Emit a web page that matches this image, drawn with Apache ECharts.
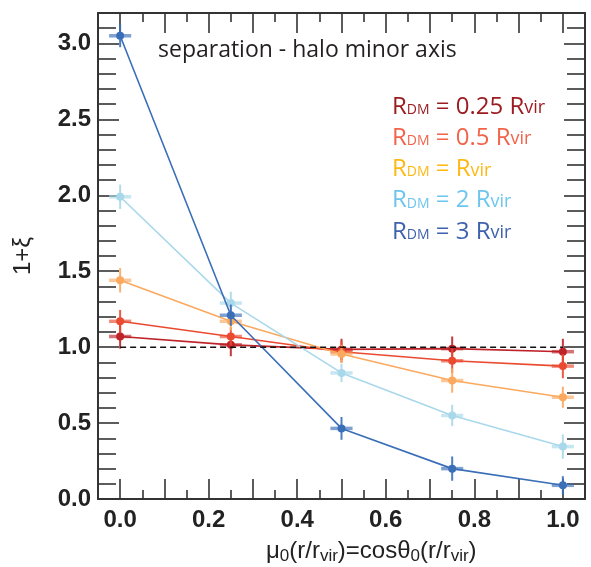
<!DOCTYPE html>
<html><head><meta charset="utf-8">
<script src="https://cdn.jsdelivr.net/npm/echarts@6/dist/echarts.min.js"></script>
<style>html,body{margin:0;padding:0;background:#fff}#c{width:591px;height:567px}</style>
</head><body><div id="c"></div>
<script>
// ---- data ----
const xValues = [0, 0.25, 0.5, 0.75, 1.0];
const y025 = [1.07, 1.015, 0.985, 0.99, 0.97];
const e025 = [0.08, 0.075, 0.07, 0.08, 0.085];
const y05 = [1.17, 1.07, 0.97, 0.91, 0.875];
const e05 = [0.075, 0.06, 0.07, 0.08, 0.08];
const y1 = [1.44, 1.17, 0.955, 0.78, 0.67];
const e1 = [0.08, 0.06, 0.06, 0.08, 0.07];
const y2 = [1.99, 1.29, 0.83, 0.55, 0.345];
const e2 = [0.08, 0.075, 0.06, 0.07, 0.08];
const y3 = [3.05, 1.21, 0.465, 0.20, 0.09];
const e3 = [0.075, 0.07, 0.075, 0.08, 0.06];
const xErr = 0.025;
const refX = [0, 1];
const refY = [1, 1];
const xLabelValues = [0, 0.2, 0.4, 0.6, 0.8, 1.0];
const xMajorTicks = [0, 0.1, 0.2, 0.3, 0.4, 0.5, 0.6, 0.7, 0.8, 0.9, 1.0];
const xMinorTicks = [0.05, 0.15, 0.25, 0.35, 0.45, 0.55, 0.65, 0.75, 0.85, 0.95];
const yLabelValues = [0, 0.5, 1.0, 1.5, 2.0, 2.5, 3.0];
const yMinorTicks = [0.1, 0.2, 0.3, 0.4, 0.6, 0.7, 0.8, 0.9, 1.1, 1.2, 1.3, 1.4, 1.6, 1.7, 1.8, 1.9,
  2.1, 2.2, 2.3, 2.4, 2.6, 2.7, 2.8, 2.9, 3.1];
const legendNums = ['0.25 ', '0.5 ', '', '2 ', '3 '];
const titleText = 'separation - halo minor axis';

const lineColors = ['#BE2329', '#EA4A30', '#FBA95E', '#A8D8EA', '#3A6FB8'];
const textColors = ['#9B1D21', '#F2644A', '#FDB913', '#6EC6EE', '#3F62AE'];
const ySets = [y025, y05, y1, y2, y3];
const eSets = [e025, e05, e1, e2, e3];

const chart = echarts.init(document.getElementById('c'), null, {renderer: 'canvas'});
const axisCol = '#333';
const tickFont = {fontFamily: 'Liberation Sans', fontWeight: 'bold', fontSize: 24, color: '#222'};

function xAx(pos, ticks, len, showLine, showLabel) {
  return {type: 'value', position: pos, min: -0.05, max: 1.05,
    axisLine: {show: showLine, onZero: false, lineStyle: {color: axisCol, width: 2}},
    axisTick: {show: true, inside: true, length: len, customValues: ticks, lineStyle: {color: axisCol, width: 1.6}},
    axisLabel: {show: showLabel, customValues: xLabelValues, margin: 9,
      formatter: v => v.toFixed(1), ...tickFont},
    splitLine: {show: false}};
}
function yAx(pos, ticks, len, showLine, showLabel) {
  return {type: 'value', position: pos, min: 0, max: 3.2,
    axisLine: {show: showLine, onZero: false, lineStyle: {color: axisCol, width: 2}},
    axisTick: {show: true, inside: true, length: len, customValues: ticks, lineStyle: {color: axisCol, width: 1.6}},
    axisLabel: {show: showLabel, customValues: yLabelValues, margin: 7,
      formatter: v => v.toFixed(1), ...tickFont},
    splitLine: {show: false}};
}

function errSeries(ys, es, color, z) {
  return {type: 'custom', xAxisIndex: 0, yAxisIndex: 0, z: z, silent: true,
    data: xValues.map((x, i) => [x, ys[i], es[i]]),
    renderItem(params, api) {
      const x = api.value(0), y = api.value(1), e = api.value(2);
      const p0 = api.coord([x - xErr, y]), p1 = api.coord([x + xErr, y]);
      const q0 = api.coord([x, y - e]), q1 = api.coord([x, y + e]);
      return {type: 'group', children: [
        {type: 'line', shape: {x1: p0[0], y1: p0[1], x2: p1[0], y2: p1[1]}, style: {stroke: color, lineWidth: 3.5, opacity: 0.65}},
        {type: 'line', shape: {x1: q0[0], y1: q0[1], x2: q1[0], y2: q1[1]}, style: {stroke: color, lineWidth: 2, opacity: 0.9}}
      ]};
    }};
}

const series = [];
ySets.forEach((ys, k) => {
  series.push(errSeries(ys, eSets[k], lineColors[k], 2 + k * 2));
  series.push({type: 'line', xAxisIndex: 0, yAxisIndex: 0, z: 3 + k * 2,
    data: xValues.map((x, i) => [x, ys[i]]),
    symbol: 'circle', symbolSize: 8, showSymbol: true, animation: false,
    lineStyle: {color: lineColors[k], width: 1.6},
    itemStyle: {color: lineColors[k]}});
});
series.push({type: 'line', xAxisIndex: 0, yAxisIndex: 0, z: 20, symbol: 'none',
  data: refX.map((x, i) => [x, refY[i]]),
  lineStyle: {color: '#111', width: 1.5, type: [6, 4]}});

const legendItems = textColors.map((c, k) => ({
  type: 'text', left: 392, top: 105 + k * 31.2 - 10, z: 50,
  style: {
    text: '{b|R}{s|DM}{b| = ' + legendNums[k] + 'R}{v|vir}',
    rich: {
      b: {fontFamily: 'Open Sans', fontSize: 24, lineHeight: 20, fill: c, color: c},
      s: {fontFamily: 'Open Sans', fontSize: 14, verticalAlign: 'bottom', fill: c, color: c},
      v: {fontFamily: 'Open Sans', fontSize: 18, verticalAlign: 'bottom', fill: c, color: c}
    }
  }
}));

chart.setOption({
  animation: false,
  grid: {left: 98, top: 13, width: 487, height: 486, containLabel: false},
  xAxis: [
    xAx('bottom', xMajorTicks, 20, true, true),
    xAx('bottom', xMinorTicks, 9, false, false),
    xAx('top', xMajorTicks, 20, true, false),
    xAx('top', xMinorTicks, 9, false, false)
  ],
  yAxis: [
    yAx('left', yLabelValues, 21, true, true),
    yAx('left', yMinorTicks, 18, false, false),
    yAx('right', yLabelValues, 21, true, false),
    yAx('right', yMinorTicks, 18, false, false)
  ],
  series: series,
  graphic: [
    {type: 'text', left: 158, top: 39, z: 50,
      style: {text: titleText, fontFamily: 'Open Sans', fontSize: 23, fill: '#231F20'}},
    ...legendItems,
    {type: 'text', left: 266, top: 539, z: 50,
      style: {
        text: '{n|μ}{s|0}{n|(r/r}{s|vir}{n|)=cosθ}{s|0}{n|(r/r}{s|vir}{n|)}',
        rich: {
          n: {fontFamily: 'Liberation Sans', fontSize: 24, lineHeight: 28, fill: '#222', color: '#222'},
          s: {fontFamily: 'Liberation Sans', fontSize: 17, lineHeight: 16, verticalAlign: 'bottom', fill: '#222', color: '#222'}
        }
      }},
    {type: 'text', x: 23, y: 256, rotation: Math.PI / 2, z: 50,
      style: {text: '1+ξ', fontFamily: 'Liberation Sans', fontSize: 24, fill: '#222',
        align: 'center', verticalAlign: 'middle'}}
  ]
});
</script></body></html>
